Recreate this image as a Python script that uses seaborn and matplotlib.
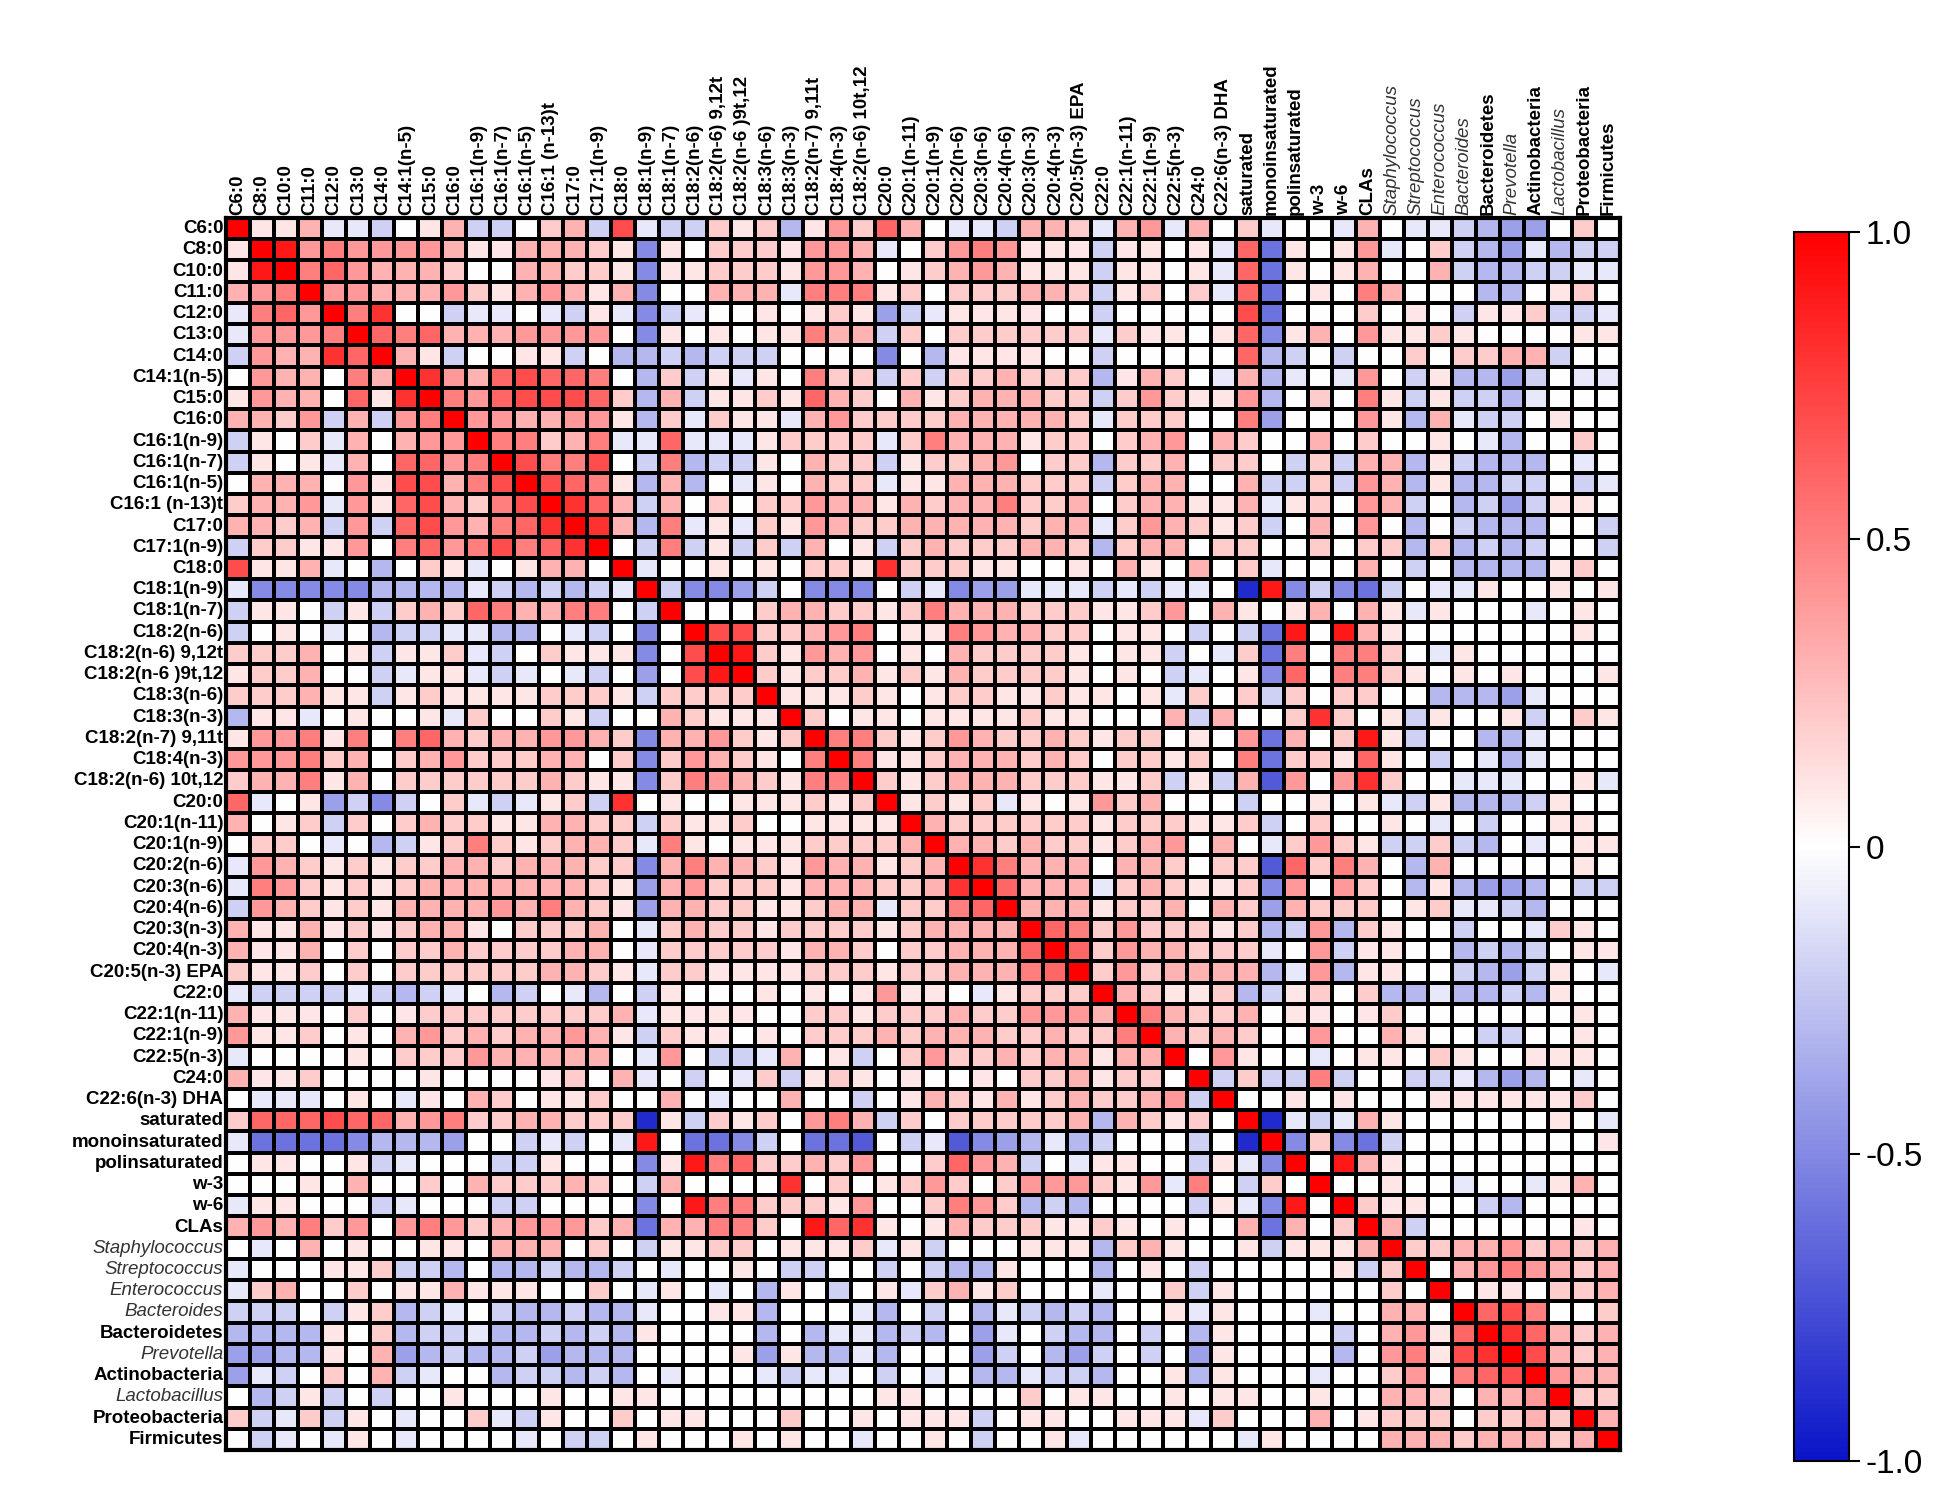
import matplotlib
matplotlib.use("Agg")
import matplotlib.pyplot as plt
import numpy as np
import pandas as pd
import seaborn as sns
from matplotlib.colors import LinearSegmentedColormap

labels = ["C6:0", "C8:0", "C10:0", "C11:0", "C12:0", "C13:0", "C14:0", "C14:1(n-5)", "C15:0",
          "C16:0", "C16:1(n-9)", "C16:1(n-7)", "C16:1(n-5)", "C16:1 (n-13)t", "C17:0", "C17:1(n-9)",
          "C18:0", "C18:1(n-9)", "C18:1(n-7)", "C18:2(n-6)", "C18:2(n-6) 9,12t", "C18:2(n-6 )9t,12",
          "C18:3(n-6)", "C18:3(n-3)", "C18:2(n-7) 9,11t", "C18:4(n-3)", "C18:2(n-6) 10t,12", "C20:0",
          "C20:1(n-11)", "C20:1(n-9)", "C20:2(n-6)", "C20:3(n-6)", "C20:4(n-6)", "C20:3(n-3)",
          "C20:4(n-3)", "C20:5(n-3) EPA", "C22:0", "C22:1(n-11)", "C22:1(n-9)", "C22:5(n-3)", "C24:0",
          "C22:6(n-3) DHA", "saturated", "monoinsaturated", "polinsaturated", "w-3", "w-6", "CLAs",
          "Staphylococcus", "Streptococcus", "Enterococcus", "Bacteroides", "Bacteroidetes",
          "Prevotella", "Actinobacteria", "Lactobacillus", "Proteobacteria", "Firmicutes"]
italic_labels = ["Staphylococcus", "Streptococcus", "Enterococcus", "Bacteroides", "Prevotella",
                 "Lactobacillus"]

# lower triangle: digit = +0.d, letter a..i = -0.1..-0.9
lower = [
    "",
    "1",
    "19",
    "345",
    "a564",
    "a4445",
    "b43386",
    "0433053",
    "14330618",
    "3324b3b45",
    "b102a30344",
    "b101a306645",
    "033304177357",
    "2334a41673257",
    "3323b4b6743568",
    "b22114056457568",
    "7113a0c021a01330",
    "aeeeeeccccabcbcba",
    "b110b1b2326533550b",
    "b010a0cbbaacc0ab0e0",
    "222301b112ab02111e07",
    "122300ba11aba0ab0d079",
    "222311b1211112221b2222",
    "c11a01001a20021b0032111",
    "1445150563" "2334432e33" "4212",
    "4445230234" "2223302e24" "32105",
    "2335130222" "2223211e25" "432155",
    "6a01dbeb02" "aba12b8010" "0111212",
    "3012b20232" "2113322b21" "12001111",
    "0220a0cb12" "5212332a51" "011122223",
    "a432121223" "3233322e35" "3321433123",
    "a542121233" "3333321d34" "22213332238",
    "b432121333" "3435321d33" "2211233a2256",
    "3113121233" "1022230a23" "2212222123333",
    "3113020223" "2222330a22" "22213320223336",
    "2112020222" "2223321a22" "111122212233356",
    "abbbbabcba" "0cb0ac0b10" "00101014110a1222",
    "3111020122" "2222223a11" "11002212223224443",
    "4112010342" "3233431b21" "101022232333223225",
    "a000010222" "4333330a4" "0bba301b02" "422323313" "3",
    "3112000010" "0001203a0" "b0a2b12101" "001022312" "20",
    "0aaa010a10" "320112003" "0a00300b01" "321312322" "34b",
    "2666766345" "2233222i1" "b2120453b2" "022222" "3c3" "2120",
    "affffecccd" "00bab0a90" "ffeb0ffg0b" "agedcacb0" "00b0i",
    "011001ba00" "0bb1000e1" "9562232400" "2643b0a11" "00b1ae",
    "0001030020" "3222320b3" "0000802012" "420244421" "4a50b2",
    "a11000ba00" "0bb0000e0" "9552221400" "2542cbc00" "00b1ae90",
    "3435240454" "2344423f3" "3552096810" "132221121" "01003f302",
    "0a03010011" "0333020b1" "12201112a1" "b000111c2" "31001b1113",
    "a000112bbc" "0ccbccb0a" "0010bb00b0" "bcc1000c0" "10b00000" "1b2",
    "a230020113" "1110020a1" "0a0c10b01a" "2312000a0" "02b1000000" "20",
    "bbb0b12cba" "0bccbcca0" "011c000ac0" "b0cabcbc0" "01a1000a00" "330",
    "cccc102cbb" "accbcbc10" "000c0caacb" "c0da0bcc0" "b0c10000b0" "3416",
    "ddcc103dcb" "ccbdccc00" "001d1ccac0" "00db0cdb0" "b0d10000c0" "45178",
    "dab0203ba0" "0cbbcbc0a" "000abaa0b0" "a0ccabbc0" "01c1000a00" "240567",
    "0cb1b0b001" "000100110" "0000000011" "000020110" "0101100100" "3320334",
    "2ba2b10a00" "2ab100201" "1000200101" "11b011001" "11a2000301" "22202232",
    "0ba0a10a00" "00a0bb010" "0010100a00" "10b001a00" "0000a10000" "333233323",
]

code = {str(d): d / 10 for d in range(10)}
code.update({ch: -(k + 1) / 10 for k, ch in enumerate("abcdefghi")})

n = len(labels)
corr = np.eye(n)
for i, row in enumerate(lower):
    vals = [code[c] for c in row][:i]
    vals += [0.0] * (i - len(vals))
    for j, v in enumerate(vals):
        corr[i, j] = corr[j, i] = v
df = pd.DataFrame(corr, index=labels, columns=labels)

plt.rcParams['font.family'] = ['Liberation Sans', 'DejaVu Sans']
cmap = LinearSegmentedColormap.from_list("rwb", ["#0a14c8", "#ffffff", "#ff0000"])

fig = plt.figure(figsize=(19.59, 14.88), dpi=100)
ax = fig.add_axes([0.1154, 0.0255, 0.7116, 0.828])
cax = fig.add_axes([0.916, 0.018, 0.028, 0.826])
sns.heatmap(df, ax=ax, cbar_ax=cax, cmap=cmap, vmin=-1, vmax=1, linewidths=1.6,
            linecolor="black", square=False)

ax.xaxis.tick_top()
ax.set_xticks(np.arange(n) + 0.5)
ax.set_yticks(np.arange(n) + 0.5)
ax.set_xticklabels(labels, rotation=90, fontsize=13.5)
ax.set_yticklabels(labels, rotation=0, fontsize=13.5)
ax.tick_params(length=0, pad=2)
for t in ax.get_xticklabels() + ax.get_yticklabels():
    if t.get_text() in italic_labels:
        t.set_fontstyle("italic")
        t.set_color("#333333")
    else:
        t.set_fontweight("bold")
for s in ax.spines.values():
    s.set_visible(True)
    s.set_linewidth(3)

cb = ax.collections[0].colorbar
cb.set_ticks([-1, -0.5, 0, 0.5, 1])
cb.set_ticklabels(["-1.0", "-0.5", "0", "0.5", "1.0"])
cb.ax.tick_params(labelsize=24, length=8, width=1.5)
cb.outline.set_visible(True)
cb.outline.set_linewidth(1.5)

fig.savefig("out.png", dpi=100)
